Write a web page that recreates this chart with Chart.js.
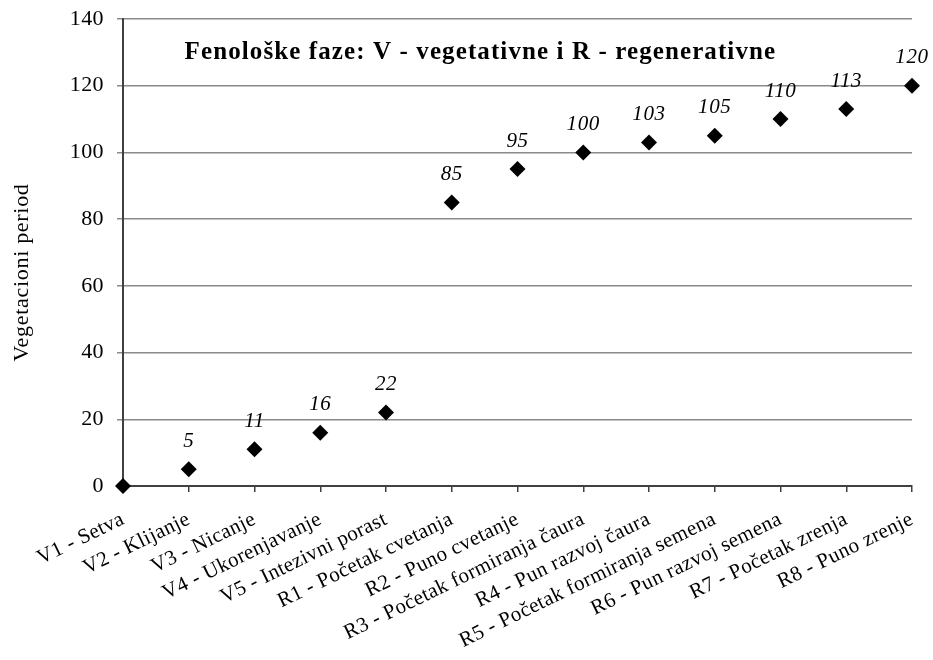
<!DOCTYPE html>
<html>
<head>
<meta charset="utf-8">
<script src="https://cdn.jsdelivr.net/npm/chart.js@4"></script>
<style>
  html, body { margin: 0; padding: 0; background: #fff; }
  #wrap { width: 933px; height: 660px; }
</style>
</head>
<body>
<div id="wrap"><canvas id="c" width="933" height="660"></canvas></div>
<script>
const categories = [
  "V1 - Setva",
  "V2 - Klijanje",
  "V3 - Nicanje",
  "V4 - Ukorenjavanje",
  "V5 - Intezivni porast",
  "R1 - Početak cvetanja",
  "R2 - Puno cvetanje",
  "R3 - Početak formiranja čaura",
  "R4 - Pun razvoj čaura",
  "R5 - Početak formiranja semena",
  "R6 - Pun razvoj semena",
  "R7 - Početak zrenja",
  "R8 - Puno zrenje"
];
const values = [0, 5, 11, 16, 22, 85, 95, 100, 103, 105, 110, 113, 120];
const yTickValues = [0, 20, 40, 60, 80, 100, 120, 140];
const chartTitle = "Fenološke faze: V - vegetativne i R - regenerativne";
const yAxisTitle = "Vegetacioni period";

const SERIF = "'Liberation Serif', 'Times New Roman', serif";
const LS = '0.4px';

const spacingPlugin = {
  id: 'spacing',
  beforeUpdate(chart) { chart.ctx.letterSpacing = LS; },
  beforeLayout(chart) { chart.ctx.letterSpacing = LS; },
  beforeDraw(chart) { chart.ctx.letterSpacing = LS; }
};

const labelsPlugin = {
  id: 'pointLabels',
  afterDatasetsDraw(chart) {
    const ctx = chart.ctx;
    const meta = chart.getDatasetMeta(0);
    ctx.save();
    ctx.letterSpacing = '0.6px';
    ctx.fillStyle = '#000';
    ctx.font = 'italic 21px ' + SERIF;
    ctx.textAlign = 'center';
    ctx.textBaseline = 'middle';
    meta.data.forEach((pt, i) => {
      const v = values[i];
      if (v === 0) return;
      ctx.fillText(String(v), pt.x, pt.y - 28);
    });
    ctx.restore();
  }
};

const textPlugin = {
  id: 'innerTitle',
  afterDraw(chart) {
    const ctx = chart.ctx;
    const ca = chart.chartArea;
    const ys = chart.scales.y;
    ctx.save();
    ctx.letterSpacing = '1.1px';
    ctx.fillStyle = '#000';
    ctx.font = 'bold 25px ' + SERIF;
    ctx.textAlign = 'center';
    ctx.textBaseline = 'middle';
    ctx.fillText(chartTitle, ca.left + ca.width * 0.453, ys.getPixelForValue(130));
    ctx.restore();

    ctx.save();
    ctx.letterSpacing = '0.7px';
    ctx.fillStyle = '#000';
    ctx.font = '22px ' + SERIF;
    ctx.textAlign = 'center';
    ctx.textBaseline = 'middle';
    ctx.translate(22, ys.getPixelForValue(64));
    ctx.rotate(-Math.PI / 2);
    ctx.fillText(yAxisTitle, 0, 0);
    ctx.restore();
  }
};

new Chart(document.getElementById('c'), {
  type: 'line',
  data: {
    labels: categories,
    datasets: [{
      data: values,
      showLine: false,
      pointStyle: 'rectRot',
      pointRadius: 8,
      pointHoverRadius: 8,
      pointBackgroundColor: '#000',
      pointBorderColor: '#000',
      pointBorderWidth: 0,
      clip: false
    }]
  },
  options: {
    responsive: false,
    animation: false,
    events: [],
    layout: { autoPadding: false, padding: { top: 19, right: 21, bottom: 0, left: 0 } },
    plugins: {
      legend: { display: false },
      title: { display: false },
      tooltip: { enabled: false }
    },
    scales: {
      x: {
        type: 'category',
        offset: false,
        grid: {
          display: true,
          drawOnChartArea: false,
          drawTicks: true,
          tickLength: 6,
          color: '#404040',
          lineWidth: 1.5
        },
        border: { display: true, color: '#404040', width: 2 },
        ticks: {
          autoSkip: false,
          minRotation: 26,
          maxRotation: 26,
          padding: 15,
          color: '#000',
          font: { family: SERIF, size: 21 }
        },
        afterFit(s) { s.height = 174; s.paddingLeft = 0; s.paddingRight = 0; }
      },
      y: {
        min: 0,
        max: 140,
        afterBuildTicks(s) { s.ticks = yTickValues.map(v => ({ value: v })); },
        grid: {
          color: '#8a8a8a',
          lineWidth: 1.5,
          tickLength: 6,
          drawTicks: true
        },
        border: { display: true, color: '#404040', width: 2 },
        ticks: {
          padding: 13,
          color: '#000',
          font: { family: SERIF, size: 22 }
        },
        title: { display: false },
        afterFit(s) { s.width = 123; s.paddingTop = 0; s.paddingBottom = 0; }
      }
    }
  },
  plugins: [spacingPlugin, labelsPlugin, textPlugin]
});
</script>
</body>
</html>
